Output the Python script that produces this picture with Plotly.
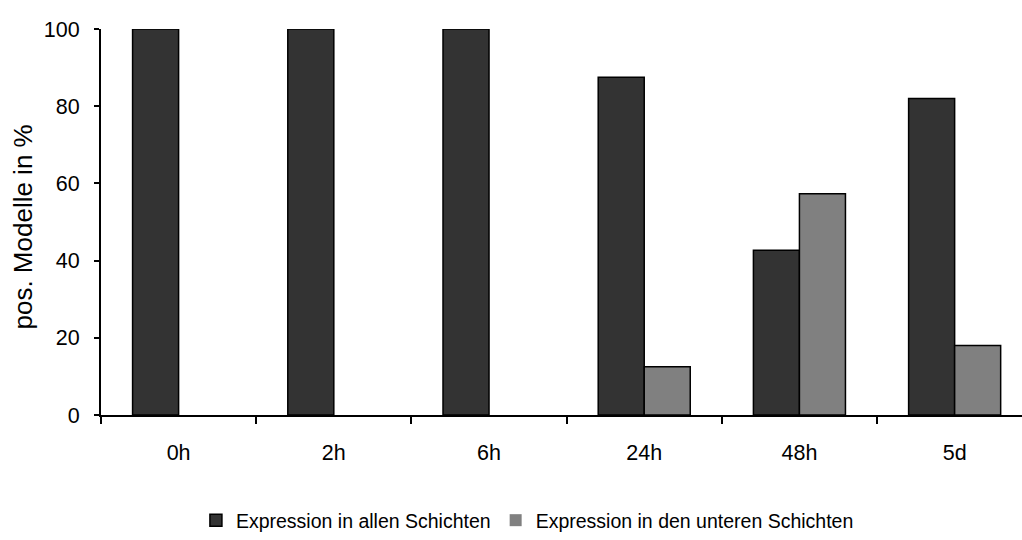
import plotly.graph_objects as go

# Zeitpunkte und Anteile positiver Modelle (%)
zeitpunkte = ["0h", "2h", "6h", "24h", "48h", "5d"]
alle_schichten = [100, 100, 100, 87.5, 42.7, 82.0]
untere_schichten = [0, 0, 0, 12.5, 57.3, 18.0]
y_ticks = [0, 20, 40, 60, 80, 100]

font_family = "Liberation Sans, Arial, sans-serif"


def outline_widths(values, width=1.5):
    # no outline on empty bars so that zero values leave no flat stroke
    return [width if v > 0 else 0 for v in values]


fig = go.Figure()
fig.add_trace(go.Bar(
    x=zeitpunkte, y=alle_schichten, name="Expression in allen Schichten",
    marker=dict(color="#333333",
                line=dict(color="#000000", width=outline_widths(alle_schichten))),
))
fig.add_trace(go.Bar(
    x=zeitpunkte, y=untere_schichten, name="Expression in den unteren Schichten",
    marker=dict(color="#808080",
                line=dict(color="#000000", width=outline_widths(untere_schichten))),
))

fig.update_layout(
    width=1022, height=540,
    margin=dict(l=101, r=0, t=29, b=124),
    paper_bgcolor="white", plot_bgcolor="white",
    barmode="group", bargap=0.407, bargroupgap=0,
    font=dict(family=font_family, size=21, color="#000000"),
    showlegend=True,
    legend=dict(
        orientation="h", x=0.463, xanchor="center", y=-0.274, yanchor="middle",
        font=dict(family=font_family, size=19.5, color="#000000"),
        itemwidth=30, tracegroupgap=0,
    ),
    xaxis=dict(
        range=[-0.5, 5.434], showline=True, linecolor="#000000", linewidth=2,
        ticks="outside", tickson="boundaries", ticklen=7, tickcolor="#000000",
        tickwidth=1.5, showgrid=False, zeroline=False,
        ticklabelstandoff=17, tickfont=dict(family=font_family, size=21.5),
    ),
    yaxis=dict(
        range=[0, 100], tickvals=y_ticks, showline=True, linecolor="#000000",
        linewidth=2, ticks="outside", ticklen=5, tickcolor="#000000",
        tickwidth=1.5, showgrid=False, zeroline=False,
        ticklabelstandoff=10, tickfont=dict(family=font_family, size=21.5),
    ),
    annotations=[dict(
        text="pos. Modelle in %", textangle=-90, showarrow=False,
        xref="paper", yref="paper", x=(23.5 - 101) / 921, y=0.487,
        xanchor="center", yanchor="middle",
        font=dict(family=font_family, size=26, color="#000000"),
    )],
)

fig.write_html("out.html")
